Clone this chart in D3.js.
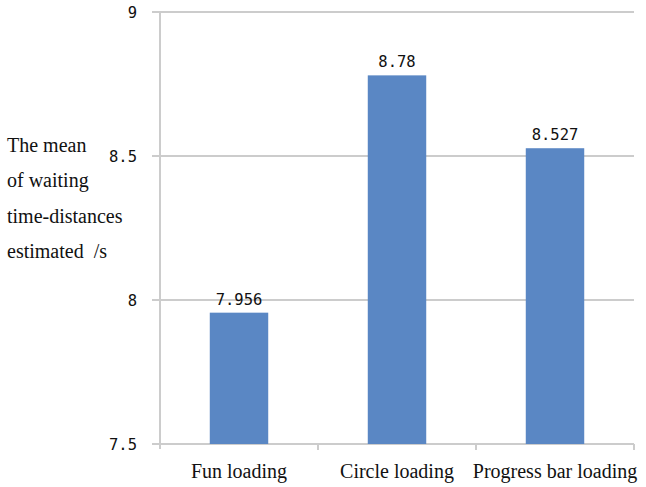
<!DOCTYPE html>
<html>
<head>
<meta charset="utf-8">
<script src="https://cdn.jsdelivr.net/npm/d3@7"></script>
<style>
body{margin:0;background:#fff;}
</style>
</head>
<body>
<div id="container"></div>
<script>
let w=646;
let h=487;

// data
let categories=["Fun loading","Circle loading","Progress bar loading"];
let means=[7.956,8.78,8.527];
let yTicks=[7.5,8,8.5,9];
let yTickLabels=["7.5","8","8.5","9"];
let titleLines=["The mean","of waiting","time-distances","estimated  /s"];

let pLeft=160, pRight=634, pTop=12, pBottom=444;

let x=d3.scaleBand().domain(categories).range([pLeft,pRight]).paddingInner(0.63).paddingOuter(0.315);
let y=d3.scaleLinear().domain([7.5,9]).range([pBottom,pTop]);

let viz=d3.select("#container").append("svg")
  .attr("width",w)
  .attr("height",h);

// gridlines
viz.selectAll(".grid").data(yTicks).enter()
  .append("line")
  .attr("class","grid")
  .attr("x1",pLeft-8)
  .attr("x2",pRight)
  .attr("y1",d=>y(d))
  .attr("y2",d=>y(d))
  .attr("stroke","#cccccc")
  .attr("stroke-width",2);

// y axis line
viz.append("line")
  .attr("x1",pLeft).attr("x2",pLeft)
  .attr("y1",pTop).attr("y2",pBottom+5)
  .attr("stroke","#cccccc")
  .attr("stroke-width",2);

// x category ticks
let step=x.step();
viz.selectAll(".xtick").data(categories).enter()
  .append("line")
  .attr("class","xtick")
  .attr("x1",(d,i)=>pLeft+step*(i+1))
  .attr("x2",(d,i)=>pLeft+step*(i+1))
  .attr("y1",pBottom)
  .attr("y2",pBottom+6)
  .attr("stroke","#cccccc")
  .attr("stroke-width",2);

// y tick labels
viz.selectAll(".ylab").data(yTicks).enter()
  .append("text")
  .attr("x",137)
  .attr("y",d=>y(d)+6)
  .attr("text-anchor","end")
  .attr("font-family","DejaVu Sans Mono")
  .attr("font-size",15.5)
  .attr("fill","#111")
  .text((d,i)=>yTickLabels[i]);

// bars
viz.selectAll(".bar").data(means).enter()
  .append("rect")
  .attr("class","bar")
  .attr("x",(d,i)=>x(categories[i]))
  .attr("y",d=>y(d))
  .attr("width",x.bandwidth())
  .attr("height",d=>pBottom-y(d))
  .attr("fill","#5a87c4");

// value labels
viz.selectAll(".val").data(means).enter()
  .append("text")
  .attr("x",(d,i)=>x(categories[i])+x.bandwidth()/2)
  .attr("y",d=>y(d)-8)
  .attr("text-anchor","middle")
  .attr("font-family","DejaVu Sans Mono")
  .attr("font-size",15.5)
  .attr("fill","#111")
  .text(d=>String(d));

// category labels
viz.selectAll(".cat").data(categories).enter()
  .append("text")
  .attr("x",d=>x(d)+x.bandwidth()/2)
  .attr("y",478)
  .attr("text-anchor","middle")
  .attr("font-family","Liberation Serif")
  .attr("font-size",20)
  .attr("fill","#111")
  .text(d=>d);

// y title
viz.selectAll(".ttl").data(titleLines).enter()
  .append("text")
  .attr("x",7)
  .attr("y",(d,i)=>152+i*35.3)
  .attr("font-family","Liberation Serif")
  .attr("font-size",20)
  .attr("fill","#111")
  .style("white-space","pre")
  .text(d=>d);
</script>
</body>
</html>
